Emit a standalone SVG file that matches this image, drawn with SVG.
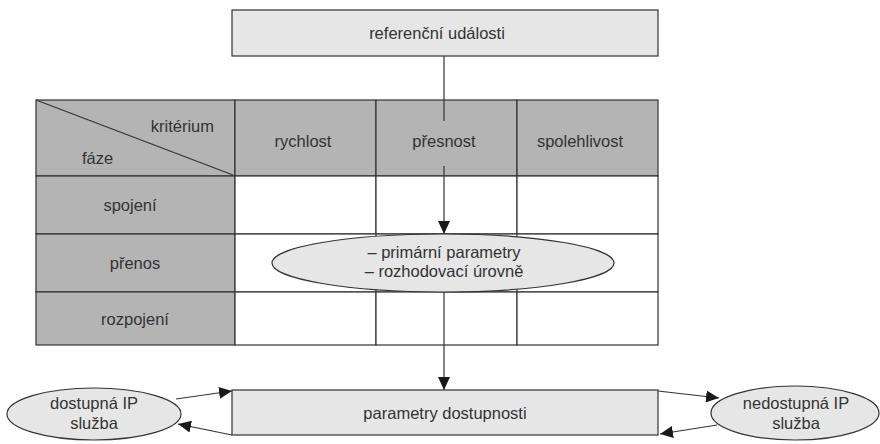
<svg xmlns="http://www.w3.org/2000/svg" width="880" height="444" viewBox="0 0 880 444">
  <defs>
    <marker id="arr" viewBox="0 0 13 12" refX="13" refY="6" markerWidth="13" markerHeight="12" markerUnits="userSpaceOnUse" orient="auto">
      <path d="M0,0 L13,6 L0,12 z" fill="#1a1a1a"/>
    </marker>
  </defs>
  <style>
    text { font-family: "Liberation Sans", Arial, sans-serif; font-size: 16.5px; fill: #333; }
    .c { text-anchor: middle; }
    .box { fill: #e6e6e7; stroke: #333; stroke-width: 1.2; }
    .hd { fill: #b4b4b5; stroke: #333; stroke-width: 1.2; }
    .cell { fill: #fff; stroke: #333; stroke-width: 1.2; }
    .ln { stroke: #333; stroke-width: 1.2; fill: none; }
  </style>
  <rect width="880" height="444" fill="#fff"/>

  <g id="ref-events">
    <rect class="box" x="232" y="10" width="426" height="46"/>
    <text class="c" x="437" y="39">referenční události</text>
  </g>

  <g id="matrix">
    <!-- header row -->
    <rect class="hd" x="36" y="100" width="199" height="76"/>
    <rect class="hd" x="235" y="100" width="141" height="76"/>
    <rect class="hd" x="376" y="100" width="141" height="76"/>
    <rect class="hd" x="517" y="100" width="141" height="76"/>
    <line class="ln" x1="36" y1="100" x2="233" y2="175"/>
    <text x="214" y="132" text-anchor="end">kritérium</text>
    <text x="82" y="164">fáze</text>
    <text class="c" x="303" y="147">rychlost</text>
    <text class="c" x="444" y="147">přesnost</text>
    <text class="c" x="580" y="147">spolehlivost</text>
    <!-- phase column -->
    <rect class="hd" x="36" y="176" width="199" height="58"/>
    <rect class="hd" x="36" y="234" width="199" height="58"/>
    <rect class="hd" x="36" y="292" width="199" height="53"/>
    <text class="c" x="130" y="211">spojení</text>
    <text class="c" x="135" y="269">přenos</text>
    <text class="c" x="135" y="325">rozpojení</text>
    <!-- body cells -->
    <rect class="cell" x="235" y="176" width="141" height="58"/>
    <rect class="cell" x="376" y="176" width="141" height="58"/>
    <rect class="cell" x="517" y="176" width="141" height="58"/>
    <rect class="cell" x="235" y="234" width="423" height="58"/>
    <line class="ln" x1="376" y1="234" x2="376" y2="292"/>
    <line class="ln" x1="517" y1="234" x2="517" y2="292"/>
    <rect class="cell" x="235" y="292" width="141" height="53"/>
    <rect class="cell" x="376" y="292" width="141" height="53"/>
    <rect class="cell" x="517" y="292" width="141" height="53"/>
  </g>

  <g id="connectors">
    <line class="ln" x1="444" y1="56" x2="444" y2="121"/>
    <line class="ln" x1="444" y1="166" x2="444" y2="234" marker-end="url(#arr)"/>
    <line class="ln" x1="444" y1="292" x2="444" y2="390" marker-end="url(#arr)"/>
    <line class="ln" x1="176" y1="399" x2="232" y2="391" marker-end="url(#arr)"/>
    <line class="ln" x1="232" y1="435" x2="178" y2="424" marker-end="url(#arr)"/>
    <line class="ln" x1="658" y1="391" x2="719" y2="398" marker-end="url(#arr)"/>
    <line class="ln" x1="717" y1="425" x2="660" y2="434" marker-end="url(#arr)"/>
  </g>

  <g id="decision-params">
    <ellipse class="box" cx="443" cy="263" rx="171" ry="29"/>
    <text class="c" x="444" y="258">– primární parametry</text>
    <text class="c" x="444" y="277">– rozhodovací úrovně</text>
  </g>

  <g id="availability-params">
    <rect class="box" x="232" y="390" width="426" height="45"/>
    <text class="c" x="445" y="419">parametry dostupnosti</text>
  </g>

  <g id="ip-available">
    <ellipse class="box" cx="94" cy="414" rx="87" ry="26"/>
    <text class="c" x="94" y="409">dostupná IP</text>
    <text class="c" x="94" y="429">služba</text>
  </g>

  <g id="ip-unavailable">
    <ellipse class="box" cx="795" cy="413" rx="84" ry="27"/>
    <text class="c" x="796" y="409">nedostupná IP</text>
    <text class="c" x="796" y="429">služba</text>
  </g>
</svg>
